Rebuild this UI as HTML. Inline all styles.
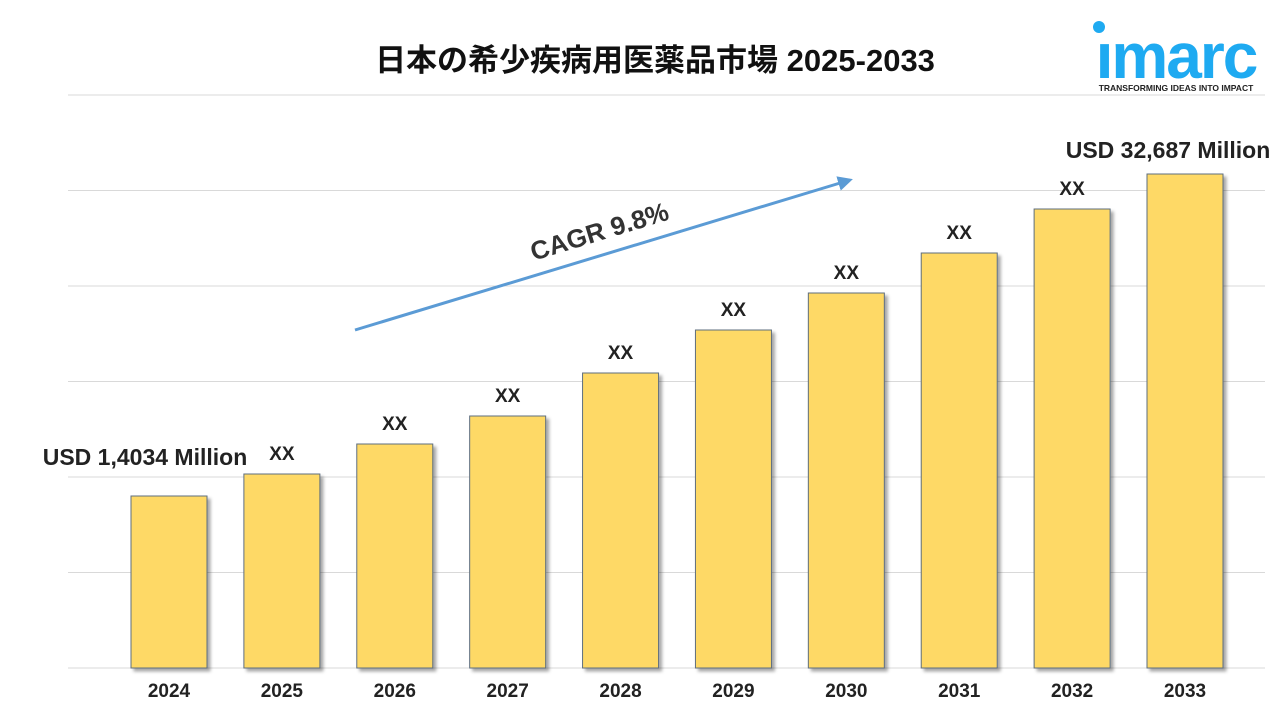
<!DOCTYPE html>
<html><head><meta charset="utf-8"><style>
body{margin:0;background:#fff;}
svg{display:block;font-family:"Liberation Sans","Noto Sans CJK JP",sans-serif;}
</style></head><body>
<svg width="1280" height="720" viewBox="0 0 1280 720">
<defs>
<filter id="sh" x="-20%" y="-20%" width="140%" height="140%"><feDropShadow dx="3" dy="3" stdDeviation="1.5" flood-color="#000" flood-opacity="0.35"/></filter>
<marker id="ah" markerWidth="5" markerHeight="5" refX="4" refY="2.5" orient="auto"><path d="M0,0 L5,2.5 L0,5 Z" fill="#5b9bd5"/></marker>
</defs>
<text x="655" y="71" text-anchor="middle" font-size="31" font-weight="bold" fill="#111">日本の希少疾病用医薬品市場 2025-2033</text>
<g>
<circle cx="1099" cy="27" r="6" fill="#1eaaf1"/>
<text x="1176" y="78" text-anchor="middle" font-size="64" font-weight="bold" fill="#1eaaf1" letter-spacing="-2">ımarc</text>
<text x="1176" y="91" text-anchor="middle" font-size="8.5" font-weight="bold" fill="#222">TRANSFORMING IDEAS INTO IMPACT</text>
</g>
<g id="grid"></g>
<g id="bars"></g>
<line x1="355" y1="330" x2="850" y2="180" stroke="#5b9bd5" stroke-width="3" marker-end="url(#ah)"/>
<text x="0" y="0" transform="translate(602,240) rotate(-17)" text-anchor="middle" font-size="26" font-weight="bold" fill="#333">CAGR 9.8%</text>
<text x="145" y="465" text-anchor="middle" font-size="23" font-weight="bold" fill="#222">USD 1,4034 Million</text>
<text x="1168" y="158" text-anchor="middle" font-size="23" font-weight="bold" fill="#222">USD 32,687 Million</text>
</svg>
<script>
const categories=["2024","2025","2026","2027","2028","2029","2030","2031","2032","2033"];
const values=[172,194,224,252,295,338,375,415,459,494];
const valueLabels=["","XX","XX","XX","XX","XX","XX","XX","XX",""];
const gridTicks=[0,100,200,300,400,500,600];
const NS="http://www.w3.org/2000/svg";
const base=668, top0=95, vmax=600;
const y=v=>base-v*(base-top0)/vmax;
const pxPerUnit=1;
const yb=v=>base-v*pxPerUnit;
const bw=76, first=169, last=1185;
const step=(last-first)/(categories.length-1);
const xc=i=>first+i*step;
const g=document.getElementById('grid');
gridTicks.forEach(t=>{const l=document.createElementNS(NS,'line');
l.setAttribute('x1',68);l.setAttribute('x2',1265);l.setAttribute('y1',y(t));l.setAttribute('y2',y(t));
l.setAttribute('stroke','#d9d9d9');l.setAttribute('stroke-width',1);


g.appendChild(l);});
const b=document.getElementById('bars');
categories.forEach((c,i)=>{
const r=document.createElementNS(NS,'rect');
r.setAttribute('x',xc(i)-bw/2);r.setAttribute('y',yb(values[i]));r.setAttribute('width',bw);r.setAttribute('height',base-yb(values[i]));
r.setAttribute('fill','#fed966');r.setAttribute('stroke','#5e6e7e');r.setAttribute('stroke-width',1);r.setAttribute('filter','url(#sh)');


b.appendChild(r);
const t=document.createElementNS(NS,'text');
t.setAttribute('x',xc(i));t.setAttribute('y',697);t.setAttribute('text-anchor','middle');t.setAttribute('font-size',19);t.setAttribute('font-weight','bold');t.setAttribute('fill','#222');
t.textContent=c;


b.appendChild(t);
if(valueLabels[i]){const v=document.createElementNS(NS,'text');
v.setAttribute('x',xc(i));v.setAttribute('y',yb(values[i])-14);v.setAttribute('text-anchor','middle');v.setAttribute('font-size',19);v.setAttribute('font-weight','bold');v.setAttribute('fill','#222');
v.textContent=valueLabels[i];


b.appendChild(v);}
});
</script>
</body></html>
